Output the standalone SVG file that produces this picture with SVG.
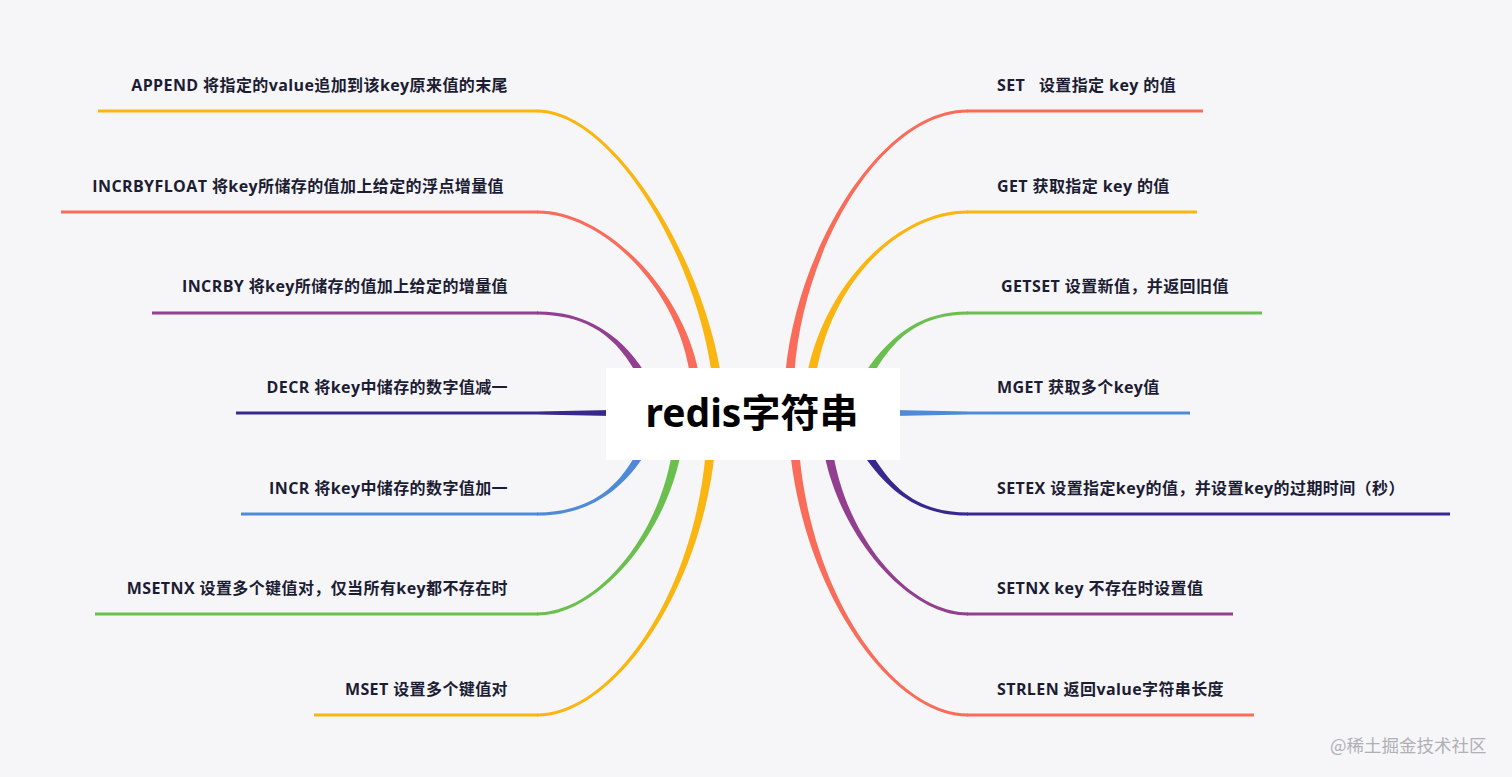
<svg xmlns="http://www.w3.org/2000/svg" width="1512" height="777" viewBox="0 0 1512 777">
<style>
.lbl{font-family:"Open Sans","Noto Sans","Noto Sans CJK SC",sans-serif;font-weight:700;font-size:16px;letter-spacing:0.4px;fill:#1c1c33;white-space:pre}
.l{text-anchor:end}
.hl{fill:none;stroke-width:3}
.title{font-family:"Noto Sans","Noto Sans CJK SC",sans-serif;font-weight:700;font-size:39px;fill:#000;text-anchor:middle}
.wm{font-family:"Noto Sans CJK SC","Noto Sans",sans-serif;font-size:17.5px;fill:#b0b0b4}
.y{fill:#FAB511}.ys{stroke:#FAB511}
.r{fill:#F96C5A}.rs{stroke:#F96C5A}
.p{fill:#913F8E}.ps{stroke:#913F8E}
.n{fill:#37288F}.ns{stroke:#37288F}
.b{fill:#4E8AD8}.bs{stroke:#4E8AD8}
.g{fill:#6BBF4E}.gs{stroke:#6BBF4E}
</style>
<rect width="1512" height="777" fill="#f6f6f9"/>
<g id="connectors">
<path class="y" d="M537,109.5 C610,109 700,250 720.5,372 L711.5,372 C694,250 610,113 537,112.5 Z"/>
<path class="r" d="M537,210.5 C605,210 683,290 698.5,372 L689.5,372 C677,290 605,214 537,213.5 Z"/>
<path class="p" d="M537,311.5 C580,311 618,330 644.5,372 L635.5,372 C612,330 580,315 537,314.5 Z"/>
<path class="n" d="M236,411.5 L537,411.5 L612,410 L612,416 L537,414.5 L236,414.5 Z"/>
<path class="b" d="M537,512.5 C580,512 612,497 635.5,455 L644.5,455 C618,497 580,516 537,515.5 Z"/>
<path class="g" d="M537,612.5 C595,612 657,540 671.5,455 L680.5,455 C663,540 595,616 537,615.5 Z"/>
<path class="y" d="M537,713.5 C610,713 692,600 705.5,455 L714.5,455 C698,600 610,717 537,716.5 Z"/>
<path class="r" d="M968,109.5 C880,109 797,250 785.5,372 L794.5,372 C803,250 880,113 968,112.5 Z"/>
<path class="y" d="M968,210.5 C900,210 827,280 807.5,372 L816.5,372 C833,280 900,214 968,213.5 Z"/>
<path class="g" d="M968,311.5 C925,311 892,332 865.5,372 L874.5,372 C898,332 925,315 968,314.5 Z"/>
<path class="b" d="M894,410 L968,411.5 L1190,411.5 L1190,414.5 L968,414.5 L894,416 Z"/>
<path class="n" d="M968,512.5 C925,512 898,497 872.5,455 L863.5,455 C892,497 925,516 968,515.5 Z"/>
<path class="p" d="M968,612.5 C910,612 848,540 833.5,455 L824.5,455 C842,540 910,616 968,615.5 Z"/>
<path class="r" d="M968,713.5 C895,713 813,600 799.5,455 L790.5,455 C807,600 895,717 968,716.5 Z"/>
</g>
<g id="center">
<rect x="606" y="368" width="294" height="92" fill="#ffffff"/>
<text class="title" x="752" y="427">redis字符串</text>
</g>
<g id="n-append"><line class="hl ys" x1="98" y1="111" x2="538" y2="111"/><text class="lbl l" x="508" y="91">APPEND 将指定的value追加到该key原来值的末尾</text></g>
<g id="n-incrbyfloat"><line class="hl rs" x1="61" y1="212" x2="538" y2="212"/><text class="lbl l" x="504" y="192">INCRBYFLOAT 将key所储存的值加上给定的浮点增量值</text></g>
<g id="n-incrby"><line class="hl ps" x1="152" y1="313" x2="538" y2="313"/><text class="lbl l" x="508" y="292">INCRBY 将key所储存的值加上给定的增量值</text></g>
<g id="n-decr"><text class="lbl l" x="508" y="393">DECR 将key中储存的数字值减一</text></g>
<g id="n-incr"><line class="hl bs" x1="241" y1="514" x2="538" y2="514"/><text class="lbl l" x="508" y="494">INCR 将key中储存的数字值加一</text></g>
<g id="n-msetnx"><line class="hl gs" x1="95" y1="614" x2="538" y2="614"/><text class="lbl l" x="508" y="594">MSETNX 设置多个键值对，仅当所有key都不存在时</text></g>
<g id="n-mset"><line class="hl ys" x1="314" y1="715" x2="538" y2="715"/><text class="lbl l" x="508" y="695">MSET 设置多个键值对</text></g>
<g id="n-set"><line class="hl rs" x1="967" y1="111" x2="1203" y2="111"/><text class="lbl" x="997" y="91">SET   设置指定 key 的值</text></g>
<g id="n-get"><line class="hl ys" x1="967" y1="212" x2="1197" y2="212"/><text class="lbl" x="997" y="192">GET 获取指定 key 的值</text></g>
<g id="n-getset"><line class="hl gs" x1="967" y1="313" x2="1262" y2="313"/><text class="lbl" x="1001" y="292">GETSET 设置新值，并返回旧值</text></g>
<g id="n-mget"><text class="lbl" x="997" y="393">MGET 获取多个key值</text></g>
<g id="n-setex"><line class="hl ns" x1="967" y1="514" x2="1450" y2="514"/><text class="lbl" x="997" y="494">SETEX 设置指定key的值，并设置key的过期时间（秒）</text></g>
<g id="n-setnx"><line class="hl ps" x1="967" y1="614" x2="1233" y2="614"/><text class="lbl" x="997" y="594">SETNX key 不存在时设置值</text></g>
<g id="n-strlen"><line class="hl rs" x1="967" y1="715" x2="1254" y2="715"/><text class="lbl" x="997" y="695">STRLEN 返回value字符串长度</text></g>
<text class="wm" x="1330" y="752">@稀土掘金技术社区</text>
</svg>
